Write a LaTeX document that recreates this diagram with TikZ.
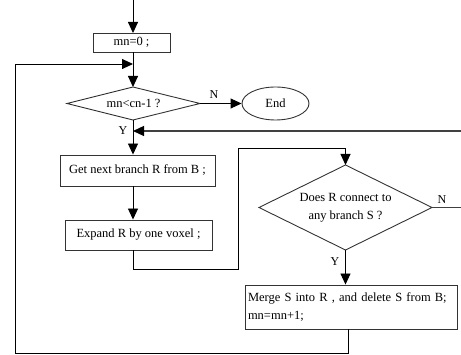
\documentclass[tikz,border=0pt]{standalone}
\usepackage{fontspec}
\setmainfont{Liberation Serif}
\usetikzlibrary{shapes.geometric,arrows.meta}
\begin{document}
\begin{tikzpicture}[x=1pt,y=1pt,
  every node/.style={font=\fontsize{12.5}{18}\selectfont},
  line/.style={line width=0.9pt,draw=black},
  arr/.style={line,-{Triangle[length=11pt,width=10pt]}},
  box/.style={draw=black!80,line width=0.9pt,rectangle,inner sep=0pt},
  outline/.style={draw=black!80,line width=0.9pt,line join=miter},
  term/.style={draw=black!80,line width=0.9pt,ellipse,inner sep=0pt},
  lbl/.style={font=\fontsize{12}{12}\selectfont}]
\useasboundingbox (0,0) rectangle (461,-355);

% entry and initialisation
\coordinate (src) at (133,0);
\node[box,minimum width=77pt,minimum height=19pt] (init) at (131.5,-42.5) {mn=0 ;};
\coordinate (initTop) at (133,-33);
\coordinate (join) at (133,-64);

% first decision: mn<cn-1 ?
\coordinate (test-n) at (133,-87);
\coordinate (test-s) at (133,-120);
\coordinate (test-w) at (67,-103.5);
\coordinate (test-e) at (200,-103.5);
\draw[outline] (test-n) -- (test-e) -- (test-s) -- (test-w) -- cycle;
\node[align=center] (test) at (133.5,-103.5) {mn<cn-1 ?};

\node[term,minimum width=67pt,minimum height=33pt] (end) at (275.5,-103.5) {End};
\coordinate (back) at (133,-131);

% processing steps
\node[box,minimum width=155pt,minimum height=31pt] (next) at (137.5,-170.5) {Get next branch R from B ;};
\node[box,minimum width=147pt,minimum height=30pt] (expand) at (138.5,-235) {Expand R by one voxel ;};

% second decision: does R touch another branch ?
\coordinate (conn-n) at (345.5,-165);
\coordinate (conn-s) at (345.5,-250);
\coordinate (conn-w) at (259,-207.5);
\coordinate (conn-e) at (432,-207.5);
\draw[outline] (conn-n) -- (conn-e) -- (conn-s) -- (conn-w) -- cycle;
\node[align=center] (conn) at (345.5,-208) {Does R connect to\\any branch S ?};

\node[box,minimum width=212pt,minimum height=44pt,align=left,text width=206pt] (merge) at (351,-307)
  {Merge S into R , and delete S from B;\\mn=mn+1;};

% connectors
\draw[arr] (src) -- (initTop);
\draw[line] (init.south -| src) -- (join);
\draw[arr] (join) -- (test-n);
\draw[arr] (test-e) -- (end.west);
\node[lbl] at (214,-95) {N};
\draw[line] (test-s) -- (back);
\draw[arr] (back) -- (next.north -| back);
\node[lbl] at (123,-131) {Y};
\draw[arr] (next.south -| back) -- (expand.north -| back);
\draw[arr] (expand.south -| back) -- (133,-269) -- (238,-269) -- (238,-148) -- (345.5,-148) -- (conn-n);
\draw[line,draw=black!75,line width=1.2pt] (conn-e) -- (480,-207.5) -- (480,-131);
\draw[arr,draw=black!75,line width=1.2pt,-{Triangle[length=11pt,width=10pt,color=black]}] (480,-131) -- (back);
\node[lbl] at (442,-200) {N};
\draw[arr] (conn-s) -- (conn-s |- merge.north);
\node[lbl] at (335,-262) {Y};
\draw[arr] (348,-329) -- (348,-353) -- (15,-353) -- (15,-64) -- (join);
\end{tikzpicture}
\end{document}
